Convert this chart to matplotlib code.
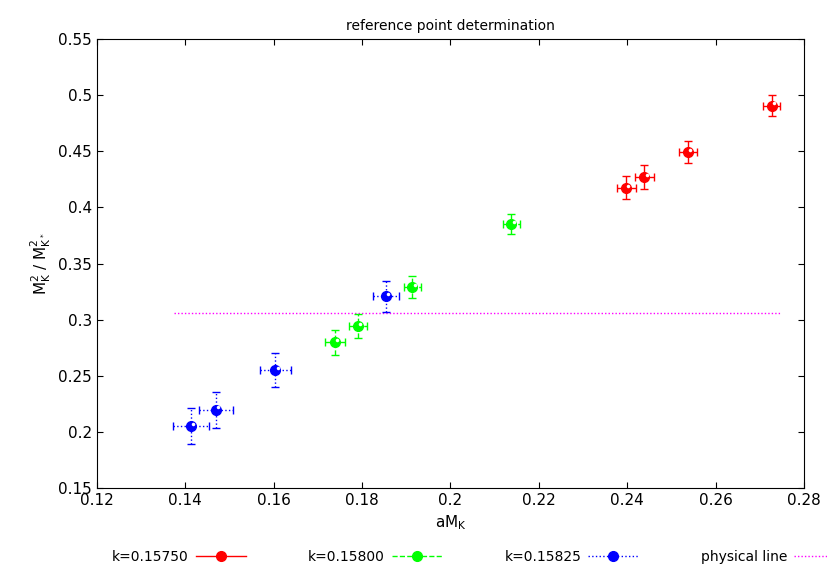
import matplotlib.pyplot as plt
from matplotlib.lines import Line2D
from matplotlib.transforms import ScaledTranslation

# k=0.15750
x1 = [0.2727, 0.2537, 0.2439, 0.2398]
y1 = [0.4906, 0.4490, 0.4268, 0.4175]
xe1 = [0.0019, 0.0020, 0.0021, 0.0021]
ye1 = [0.0095, 0.0099, 0.0105, 0.0104]

# k=0.15800
x2 = [0.2138, 0.1914, 0.1791, 0.1739]
y2 = [0.3855, 0.3288, 0.2946, 0.2798]
xe2 = [0.0019, 0.0020, 0.0021, 0.0022]
ye2 = [0.0090, 0.0099, 0.0107, 0.0114]

# k=0.15825
x3 = [0.1854, 0.1604, 0.1469, 0.1413]
y3 = [0.3210, 0.2551, 0.2200, 0.2055]
xe3 = [0.0030, 0.0035, 0.0038, 0.0040]
ye3 = [0.0138, 0.0150, 0.0160, 0.0160]

phys_x = [0.1374, 0.2745]
phys_y = [0.3062, 0.3062]

labels = ['k=0.15750', 'k=0.15800', 'k=0.15825', 'physical line']

fig = plt.figure(figsize=(8.28, 5.71), dpi=100)
ax = fig.add_axes([0.117, 0.145, 0.854, 0.787])

series = [(x1, y1, xe1, ye1, '#ff0000', '-'),
          (x2, y2, xe2, ye2, '#00ff00', '--'),
          (x3, y3, xe3, ye3, '#0000ff', ':')]
# highlight offset (upper right of each ball)
hl = ax.transData + ScaledTranslation(1.5/72, 1.5/72, fig.dpi_scale_trans)
handles = []
for x, y, xe, ye, c, ls in series:
    eb = ax.errorbar(x, y, xerr=xe, yerr=ye, fmt='o', color=c, ms=7,
                     elinewidth=1, capsize=3, capthick=1, zorder=3)
    for lc in eb[2]:
        lc.set_linestyle(ls)
    ax.plot(x, y, 'o', color='white', ms=2.5, markeredgewidth=0,
            transform=hl, zorder=4)
    handles.append(Line2D([], [], color=c, ls=ls, lw=1, marker='o', ms=7))

ax.plot(phys_x, phys_y, color='#ff00ff', ls=(0, (1, 1.5)), lw=1)
handles.append(Line2D([], [], color='#ff00ff', ls=(0, (1, 1.5)), lw=1))

ax.set_xlim(0.12, 0.28)
ax.set_ylim(0.15, 0.55)
ax.set_xticks([0.12, 0.14, 0.16, 0.18, 0.2, 0.22, 0.24, 0.26, 0.28])
ax.set_xticklabels(['0.12', '0.14', '0.16', '0.18', '0.2', '0.22', '0.24', '0.26', '0.28'])
ax.set_yticks([0.15, 0.2, 0.25, 0.3, 0.35, 0.4, 0.45, 0.5, 0.55])
ax.set_yticklabels(['0.15', '0.2', '0.25', '0.3', '0.35', '0.4', '0.45', '0.5', '0.55'])
ax.tick_params(direction='in', top=True, right=True, labelsize=11, length=4)
ax.set_xlabel('aM$_{\\mathrm{K}}$', fontsize=11)
ax.set_ylabel('M$_{\\mathrm{K}}^2$ / M$_{\\mathrm{K^*}}^2$', fontsize=11)
ax.set_title('reference point determination', fontsize=10)

fig.legend(handles, labels, loc='center left', ncol=4, frameon=False,
           markerfirst=False, handlelength=3.6, handletextpad=0.5,
           columnspacing=4.5, fontsize=10, borderpad=0, borderaxespad=0,
           bbox_to_anchor=(112/828, 1 - 557/571))

plt.savefig('out.png')
